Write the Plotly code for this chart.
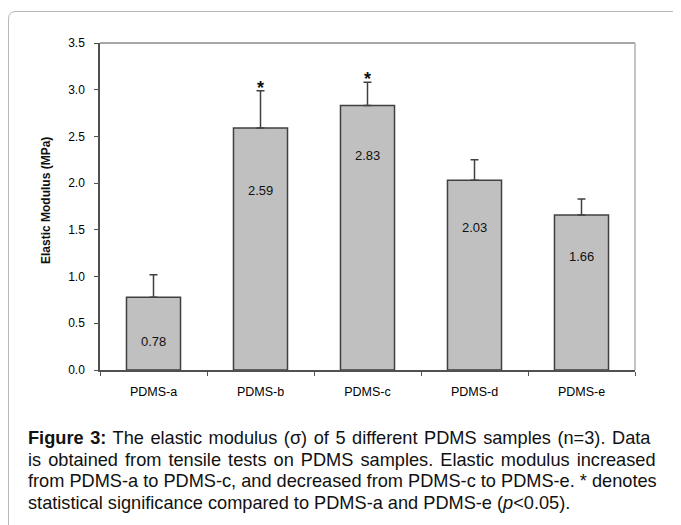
import plotly.graph_objects as go

categories = ["PDMS-a", "PDMS-b", "PDMS-c", "PDMS-d", "PDMS-e"]
modulus = [0.78, 2.59, 2.83, 2.03, 1.66]
errors = [0.24, 0.40, 0.25, 0.22, 0.17]
value_labels = ["0.78", "2.59", "2.83", "2.03", "1.66"]
label_y = [0.31, 1.92, 2.30, 1.53, 1.22]
significant = [False, True, True, False, False]
y_ticks = [0.0, 0.5, 1.0, 1.5, 2.0, 2.5, 3.0, 3.5]

caption_lines = [
    "<b>Figure 3:</b> The elastic modulus (σ) of 5 different PDMS samples (n=3). Data",
    "is obtained from tensile tests on PDMS samples. Elastic modulus increased",
    "from PDMS-a to PDMS-c, and decreased from PDMS-c to PDMS-e. * denotes",
    "statistical significance compared to PDMS-a and PDMS-e (<i>p</i><0.05).",
]
caption_word_spacing = [1.5, 2.0, 0.0, 0.0]

# the page body adds an 8px offset; work in page pixels and convert
OFF = 8
W, H = 681 - OFF, 525 - OFF
PL, PR, PT, PB = 100, 635, 43, 370          # plot box in page pixels
L = PL - OFF
T = PT - OFF
R = W - (PR - OFF)
B = H - (PB - OFF)
pw, ph = PR - PL, PB - PT

def px(x):
    return (x - PL) / pw

def py(y):
    return (PB - y) / ph

ARIAL = "Liberation Sans, Arial, sans-serif"

fig = go.Figure()
fig.add_trace(go.Bar(
    x=categories, y=modulus,
    marker=dict(color="#c0c0c0", line=dict(color="#404040", width=1.5)),
    error_y=dict(type="data", symmetric=False, array=errors, arrayminus=[0] * 5,
                 color="#404040", thickness=1.5, width=4),
    width=0.505,
    hoverinfo="skip",
))

annotations = []
for c, lab, ly in zip(categories, value_labels, label_y):
    annotations.append(dict(x=c, y=ly, text=lab, showarrow=False, xref="x", yref="y",
                            font=dict(family=ARIAL, size=13, color="#111")))
for c, v, e, s in zip(categories, modulus, errors, significant):
    if s:
        annotations.append(dict(x=c, y=v + e, text="<b>*</b>", showarrow=False, xref="x", yref="y",
                                yanchor="bottom", yshift=-9,
                                font=dict(family=ARIAL, size=18, color="#111")))
annotations.append(dict(x=px(37), y=py(201), xref="paper", yref="paper",
                        text="<b>Elastic Modulus (MPa)</b>",
                        textangle=-90, showarrow=False,
                        font=dict(family=ARIAL, size=12, color="#111")))
caption_y = [438, 459.5, 481, 502.5]
for line, cy, ws in zip(caption_lines, caption_y, caption_word_spacing):
    annotations.append(dict(x=px(26), y=py(cy), xref="paper", yref="paper",
                            text=f'<span style="word-spacing:{ws}px">{line}</span>',
                            showarrow=False, xanchor="left", yanchor="middle",
                            align="left",
                            font=dict(family=ARIAL, size=18.2, color="#111")))

shapes = [
    dict(type="line", xref="paper", yref="paper", x0=0, x1=1, y0=1, y1=1,
         line=dict(color="#8a8a8a", width=1.5)),
    dict(type="line", xref="paper", yref="paper", x0=1, x1=1, y0=0, y1=1,
         line=dict(color="#b0b0b0", width=1.5)),
    dict(type="path", xref="paper", yref="paper",
         path=(f"M {px(8.5)},{py(560)} L {px(8.5)},{py(19)} "
               f"Q {px(8.5)},{py(11.5)} {px(16)},{py(11.5)} L {px(720)},{py(11.5)}"),
         line=dict(color="#b8b8b8", width=1)),
]

fig.update_layout(
    width=W, height=H,
    margin=dict(l=L, r=R, t=T, b=B),
    paper_bgcolor="white", plot_bgcolor="white",
    showlegend=False,
    annotations=annotations,
    shapes=shapes,
    xaxis=dict(
        type="category", showgrid=False, zeroline=False,
        showline=True, linecolor="#505050", linewidth=1.5,
        ticks="outside", tickson="boundaries", ticklen=4, tickcolor="#505050", tickwidth=1,
        ticklabelstandoff=9,
        tickfont=dict(family=ARIAL, size=12.5, color="#000"),
        range=[-0.5, 4.5],
    ),
    yaxis=dict(
        range=[0, 3.5], tickvals=y_ticks, tickformat=".1f",
        showgrid=False, zeroline=False,
        showline=True, linecolor="#505050", linewidth=1.5,
        ticks="outside", ticklen=4, tickcolor="#505050", tickwidth=1,
        ticklabelstandoff=7,
        tickfont=dict(family=ARIAL, size=12, color="#000"),
    ),
)

fig.write_html("out.html")
